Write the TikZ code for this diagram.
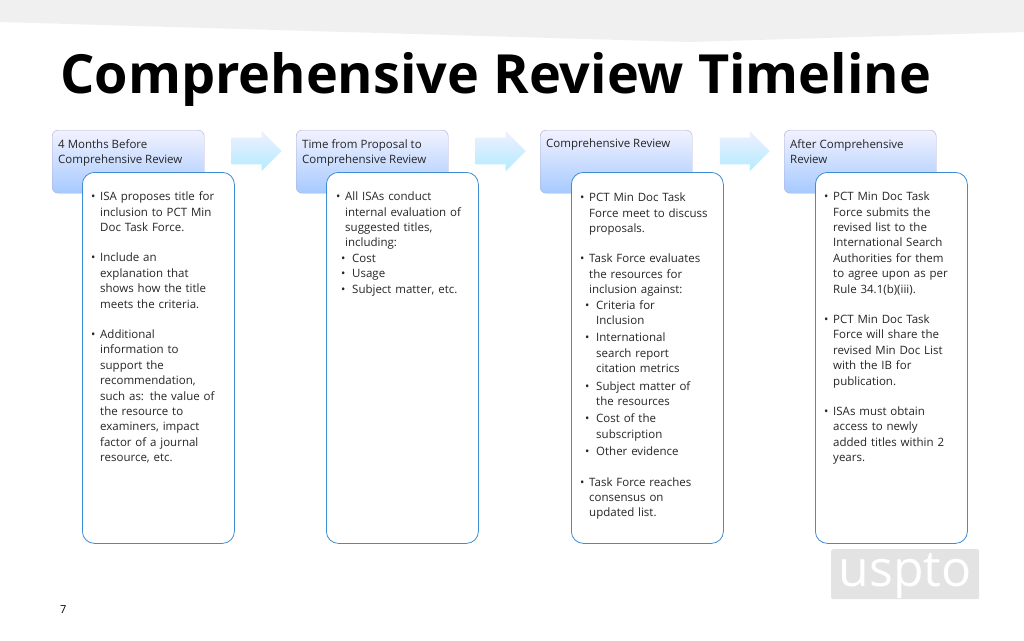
\documentclass[tikz,border=0pt]{standalone}
\usepackage{fontspec}
\setmainfont{Open Sans}
\usetikzlibrary{shapes.arrows}
\newcommand{\bul}[1]{\par\hangindent=9pt\hangafter=1\noindent\makebox[9pt][l]{\textbullet}#1\par}
\newcommand{\subb}[1]{\par\leftskip=5pt\hangindent=11pt\hangafter=1\noindent\makebox[11pt][l]{\textbullet}#1\par\leftskip=0pt}
\newcommand{\gap}{\par\vspace{15pt}}
\newcommand{\nl}{\newline}
\begin{document}
\begin{tikzpicture}[x=1pt,y=-1pt,
 hdr/.style={draw=blue!30!gray!50,rounded corners=6pt,top color=blue!5!white,bottom color=cyan!40!blue!35!white,minimum width=152pt,minimum height=63pt,anchor=north west,inner sep=0pt},
 cbox/.style={draw=cyan!60!blue!80,line width=0.8pt,rounded corners=12pt,fill=white,minimum width=152pt,minimum height=371pt,anchor=north west,inner sep=0pt},
 htxt/.style={anchor=north west,align=left,font=\fontsize{11.5}{15}\selectfont,text=black!85,inner sep=0pt},
 btxt/.style={anchor=north west,align=left,text width=150pt,font=\fontsize{11.5}{15.4}\selectfont\raggedright,text=black!85,inner sep=0pt},
 arr/.style={single arrow,draw=none,top color=blue!6!white,bottom color=blue!25!cyan!30!white,minimum height=50pt,minimum width=40pt,single arrow head extend=3pt,shape border rotate=0,inner sep=6pt}]
\useasboundingbox (0,0) rectangle (1024,640);
\fill[white] (0,0) rectangle (1024,640);
\fill[gray!12] (0,0) -- (1024,0) -- (1024,32) -- (690,42) -- (0,22) -- cycle;
\node[anchor=west,font=\fontsize{54}{60}\bfseries\selectfont,inner sep=0pt] (title) at (60,79) {Comprehensive Review Timeline};
\foreach \i/\hx/\cx in {1/52/82,2/296/326,3/540/571,4/784/815}{
 \node[hdr] (h\i) at (\hx,130) {};
 \node[cbox] (c\i) at (\cx,172) {};
}
\node[htxt] (ht1) at (58,139) {4 Months Before\\Comprehensive Review};
\node[htxt] (ht2) at (302,139) {Time from Proposal to\\Comprehensive Review};
\node[htxt] (ht3) at (546,139) {Comprehensive Review};
\node[htxt] (ht4) at (790,139) {After Comprehensive\\Review};
\node[arr] (a1) at (250,151) {};
\node[arr] (a2) at (494,151) {};
\node[arr] (a3) at (738,151) {};
\node[btxt] (t1) at (91,185) {\bul{ISA proposes title for\nl inclusion to PCT Min\nl Doc Task Force.}\gap\bul{Include an\nl explanation that\nl shows how the title\nl meets the criteria.}\gap\bul{Additional\nl information to\nl support the\nl recommendation,\nl such as: the value of\nl the resource to\nl examiners, impact\nl factor of a journal\nl resource, etc.}};
\node[btxt] (t2) at (336,185) {\bul{All ISAs conduct\nl internal evaluation of\nl suggested titles,\nl including:}\subb{Cost}\subb{Usage}\subb{Subject matter, etc.}};
\node[btxt] (t3) at (580,186) {\bul{PCT Min Doc Task\nl Force meet to discuss\nl proposals.}\gap\bul{Task Force evaluates\nl the resources for\nl inclusion against:}\subb{Criteria for\nl Inclusion}\vspace{2pt}\subb{International\nl search report\nl citation metrics}\vspace{2pt}\subb{Subject matter of\nl the resources}\vspace{2pt}\subb{Cost of the\nl subscription}\vspace{2pt}\subb{Other evidence}\gap\bul{Task Force reaches\nl consensus on\nl updated list.}};
\node[btxt] (t4) at (824,185) {\bul{PCT Min Doc Task\nl Force submits the\nl revised list to the\nl International Search\nl Authorities for them\nl to agree upon as per\nl Rule 34.1(b)(iii).}\gap\bul{PCT Min Doc Task\nl Force will share the\nl revised Min Doc List\nl with the IB for\nl publication.}\gap\bul{ISAs must obtain\nl access to newly\nl added titles within 2\nl years.}};
\node[fill=gray!22,rounded corners=2pt,minimum width=148pt,minimum height=50pt,inner sep=0pt,anchor=north west] (logo) at (831,549) {};
\node[font=\fontsize{50}{50}\selectfont,text=white,inner sep=0pt] (logotxt) at ([yshift=-2pt]logo.center) {uspto};
\node[anchor=west,font=\fontsize{11}{12}\selectfont,inner sep=0pt] (pg) at (60,610) {7};
\end{tikzpicture}
\end{document}
